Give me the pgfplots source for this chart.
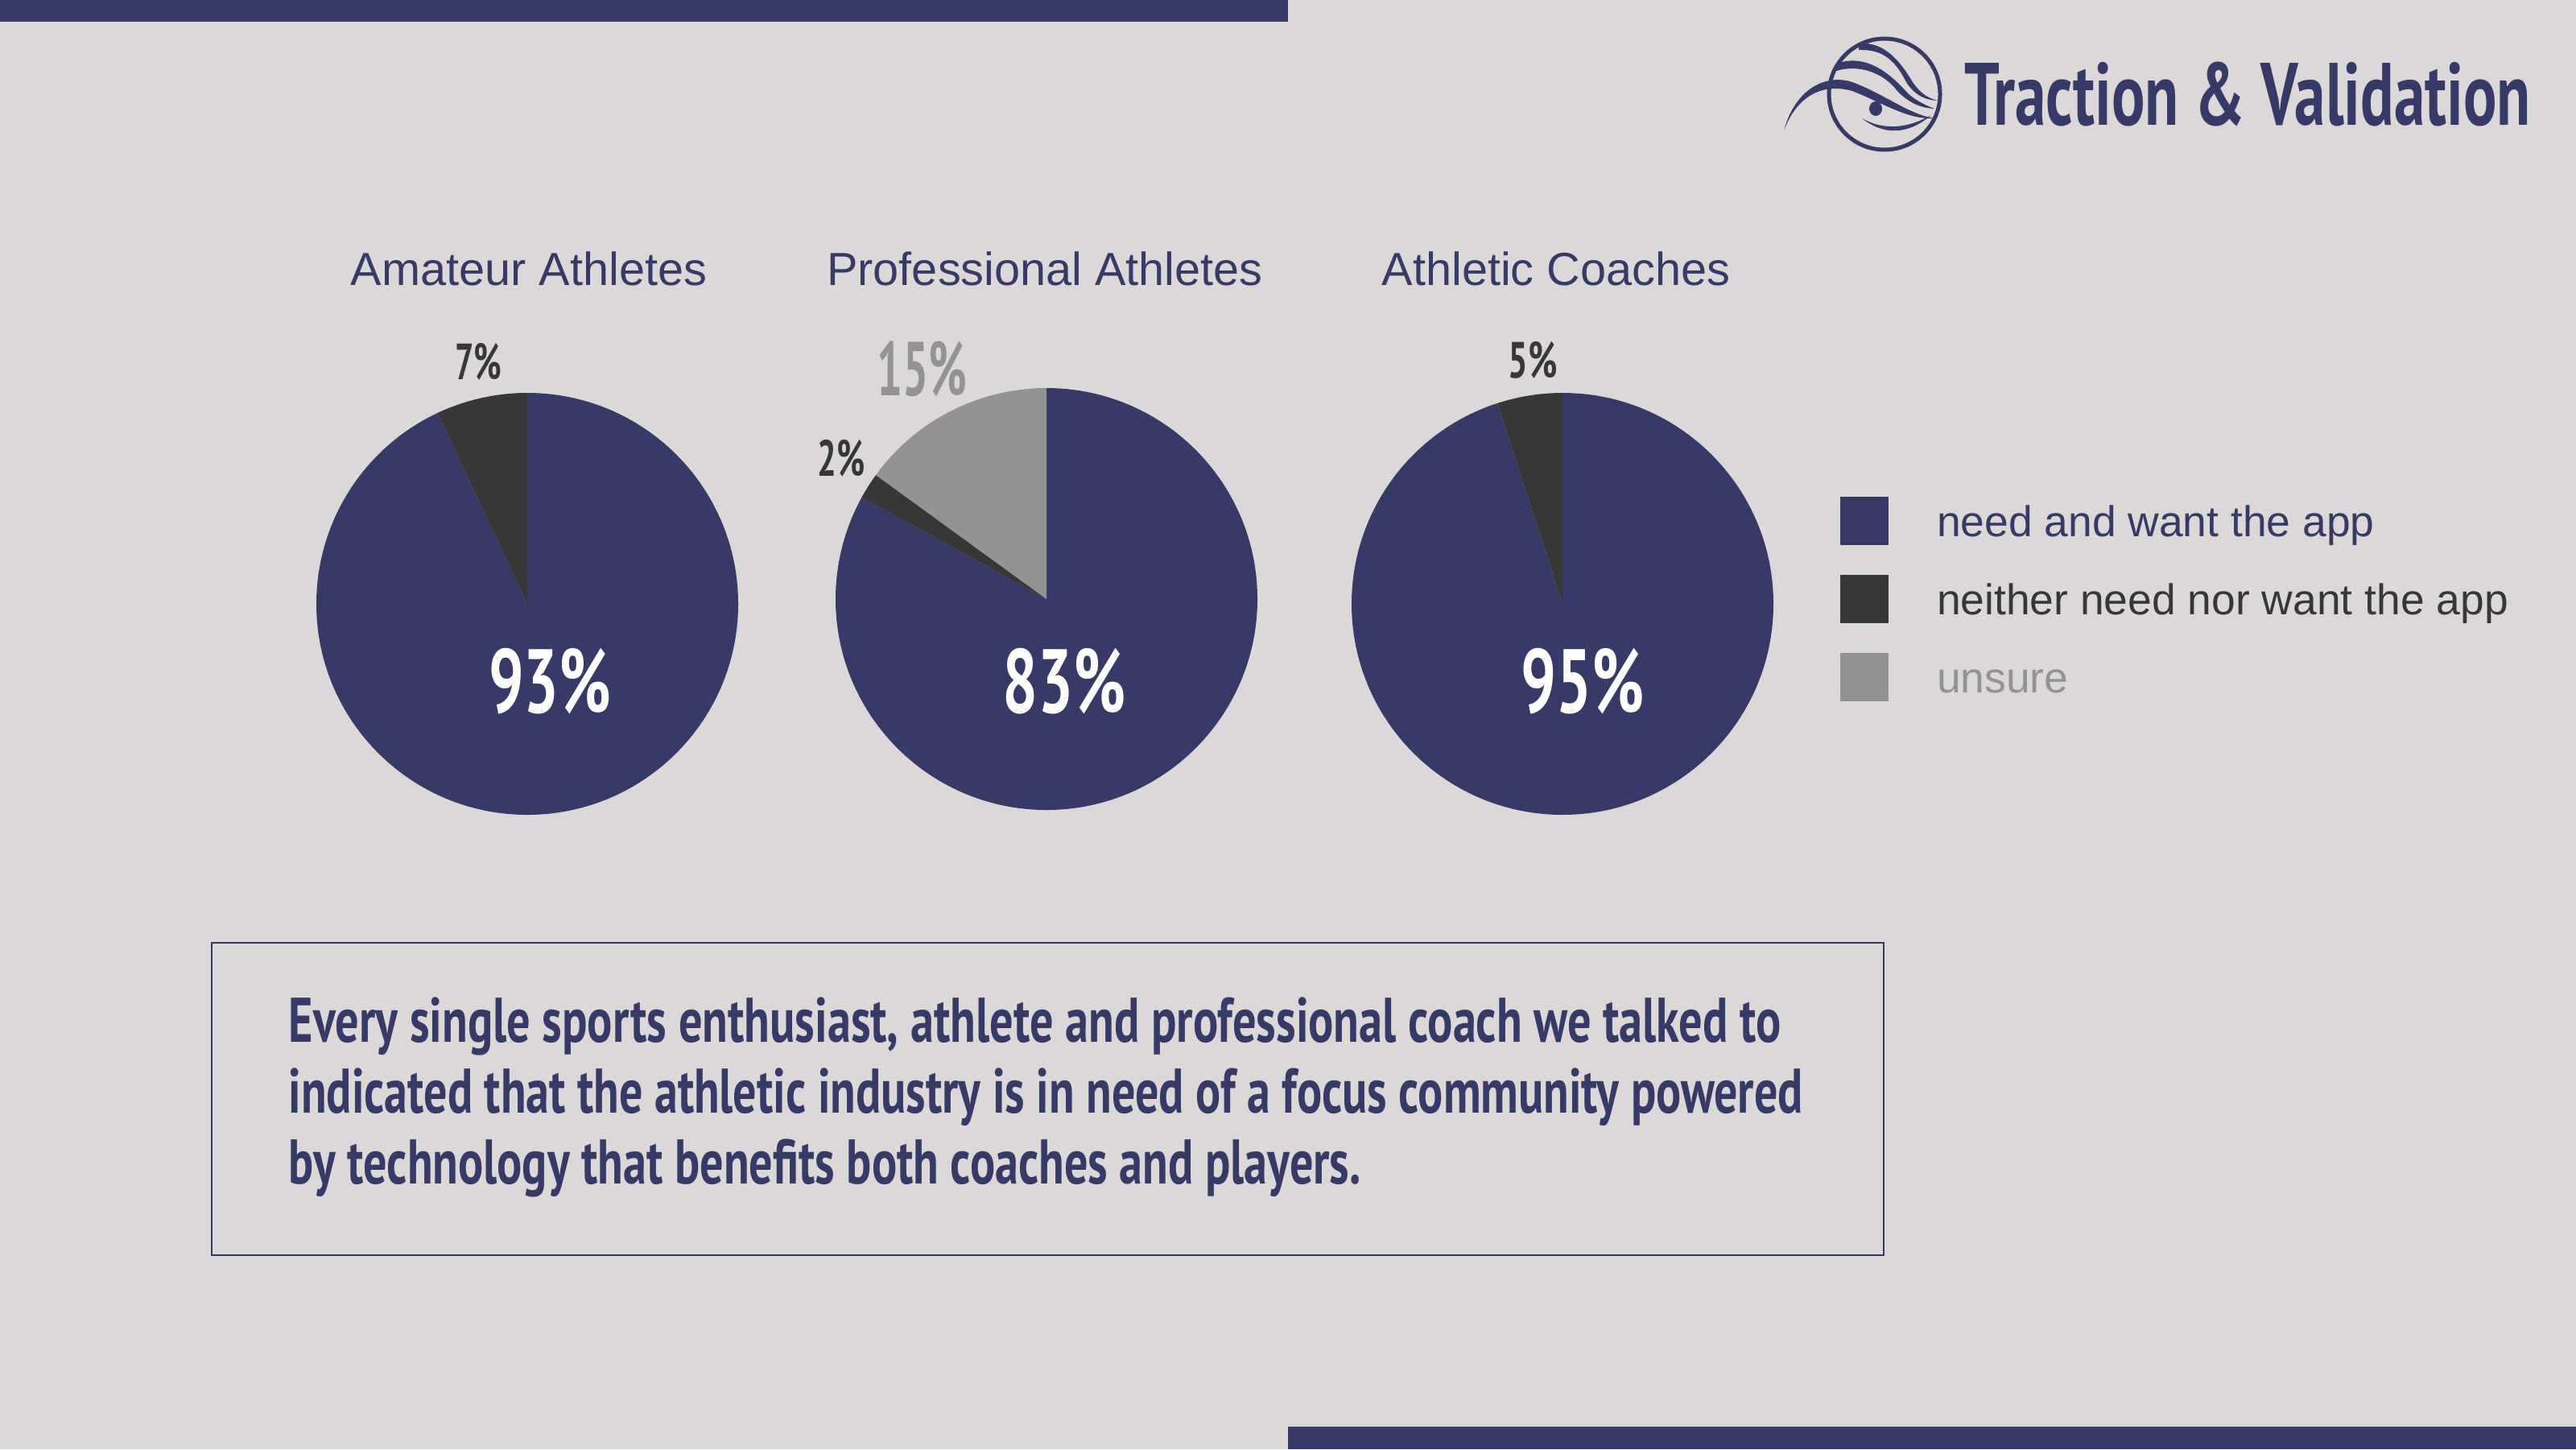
\documentclass[border=0pt]{standalone}
\usepackage{fontspec}
\setmainfont{Liberation Sans}
\newfontfamily\agency{PT Sans}
\usepackage{graphicx}
\usepackage{pgfplots}
\usepackage{pgfplotstable}
\pgfplotsset{compat=1.18}

\definecolor{navy}{RGB}{55,58,102}
\definecolor{bgc}{RGB}{221,216,216}
\definecolor{darkc}{RGB}{55,55,55}
\definecolor{grayc}{RGB}{147,147,147}

% shares of each answer, in percent, clockwise from 12 o'clock
\pgfplotstableread{
share color
93 navy
7 darkc
}\amateur
\pgfplotstableread{
share color
83 navy
2 darkc
15 grayc
}\professional
\pgfplotstableread{
share color
95 navy
5 darkc
}\coaches

\newsavebox\fitbox
\newlength\fitw
\newcommand\fitto[2]{\sbox\fitbox{#2}\setlength\fitw{\wd\fitbox}\pgfmathsetmacro\sx{(#1)/\fitw}\scalebox{\sx}[1]{\usebox\fitbox}}

\newcommand\drawpie[4]{%
  \pgfplotstablegetrowsof{#1}%
  \pgfmathtruncatemacro\lastrow{\pgfplotsretval-1}%
  \def\curang{90}%
  \pgfplotsforeachungrouped \k in {0,...,\lastrow}{%
    \pgfplotstablegetelem{\k}{share}\of{#1}\let\val\pgfplotsretval
    \pgfplotstablegetelem{\k}{color}\of{#1}\let\col\pgfplotsretval
    \pgfmathsetmacro\endang{\curang-3.6*\val}%
    \edef\doit{\noexpand\fill[\col] (axis cs:#2,#3) -- ([shift={(\curang:#4)}]axis cs:#2,#3) arc[start angle=\curang, end angle=\endang, radius=#4] -- cycle;}%
    \doit
    \let\curang\endang
  }%
}

\begin{document}
\begin{tikzpicture}
\begin{axis}[width=32cm,height=18cm,scale only axis,
  xmin=0,xmax=3200,ymin=0,ymax=1800,y dir=reverse,hide axis,clip=false,
  legend style={at={(0.714375,0.657222)},anchor=north west,draw=none,fill=none,
    inner sep=0pt,outer sep=0pt,row sep=0pt,
    font=\fontsize{15.2}{18}\selectfont,
    nodes={inner sep=0pt,text height=0.48cm,text depth=0.48cm,anchor=base west},
    /tikz/every odd column/.append style={column sep=0.6cm}},
  legend cell align=left,
  legend image code/.code={\fill[#1] (0cm,-0.11cm) rectangle (0.6cm,0.49cm);}]

\fill[bgc] (axis cs:0,0) rectangle (axis cs:3200,1800);
\fill[navy] (axis cs:0,0) rectangle (axis cs:1600,27);
\fill[navy] (axis cs:1600,1772) rectangle (axis cs:3200,1800);

% pie titles
\node[anchor=base,text=navy,inner sep=0pt,font=\fontsize{16.4}{20}\selectfont] at (axis cs:657,354) {Amateur Athletes};
\node[anchor=base,text=navy,inner sep=0pt,font=\fontsize{16.4}{20}\selectfont] at (axis cs:1298,354) {Professional Athletes};
\node[anchor=base,text=navy,inner sep=0pt,font=\fontsize{16.4}{20}\selectfont] at (axis cs:1933,354) {Athletic Coaches};

% pies
\drawpie{\amateur}{655}{750}{2.62cm}
\drawpie{\professional}{1300}{744}{2.62cm}
\drawpie{\coaches}{1941}{750}{2.62cm}

% percentage labels
\node[anchor=base,inner sep=0pt,text=darkc] at (axis cs:594,471) {\fitto{0.58cm}{\agency\bfseries\fontsize{18}{20}\selectfont 7\%}};
\node[anchor=base,inner sep=0pt,text=white] at (axis cs:683,885) {\fitto{1.52cm}{\agency\bfseries\fontsize{32}{36}\selectfont 93\%}};
\node[anchor=base,inner sep=0pt,text=grayc] at (axis cs:1145,491) {\fitto{1.12cm}{\agency\bfseries\fontsize{27}{30}\selectfont 15\%}};
\node[anchor=base,inner sep=0pt,text=darkc] at (axis cs:1045,591) {\fitto{0.59cm}{\agency\bfseries\fontsize{18}{20}\selectfont 2\%}};
\node[anchor=base,inner sep=0pt,text=white] at (axis cs:1322,885) {\fitto{1.53cm}{\agency\bfseries\fontsize{32}{36}\selectfont 83\%}};
\node[anchor=base,inner sep=0pt,text=darkc] at (axis cs:1904,469) {\fitto{0.61cm}{\agency\bfseries\fontsize{18}{20}\selectfont 5\%}};
\node[anchor=base,inner sep=0pt,text=white] at (axis cs:1966,885) {\fitto{1.53cm}{\agency\bfseries\fontsize{32}{36}\selectfont 95\%}};

% title
\node[anchor=base west,inner sep=0pt,text=navy] at (axis cs:2440,155) {\fitto{7.03cm}{\agency\bfseries\fontsize{31.3}{36}\selectfont Traction \& Validation}};

% text box
\draw[navy,line width=0.025cm] (axis cs:263,1171) rectangle (axis cs:2340,1559);
\node[anchor=base west,inner sep=0pt,text=navy] at (axis cs:358,1294) {\fitto{18.54cm}{\agency\bfseries\fontsize{22.3}{26}\selectfont Every single sports enthusiast, athlete and professional coach we talked to}};
\node[anchor=base west,inner sep=0pt,text=navy] at (axis cs:358,1382) {\fitto{18.81cm}{\agency\bfseries\fontsize{22.3}{26}\selectfont indicated that the athletic industry is in need of a focus community powered}};
\node[anchor=base west,inner sep=0pt,text=navy] at (axis cs:358,1470) {\fitto{13.32cm}{\agency\bfseries\fontsize{22.3}{26}\selectfont by technology that benefits both coaches and players.}};

\addlegendimage{fill=navy,draw=none}
\addlegendentry{\textcolor{navy}{need and want the app}}
\addlegendimage{fill=darkc,draw=none}
\addlegendentry{\textcolor{darkc}{neither need nor want the app}}
\addlegendimage{fill=grayc,draw=none}
\addlegendentry{\textcolor{grayc}{unsure}}
\end{axis}

% logo
\begin{scope}[shift={(23.41cm,16.83cm)},x=0.01cm,y=-0.01cm]
  \draw[navy,line width=0.05cm] (0,0) circle[radius=0.69cm];
  \fill[navy] (-125,45) .. controls (-110,-10) and (-70,-25) .. (-40,-15)
     .. controls (0,0) and (30,25) .. (62,30)
     .. controls (30,32) and (0,12) .. (-40,-4)
     .. controls (-80,-15) and (-110,5) .. (-125,45) -- cycle;
  \fill[navy] (-11,18) ellipse[x radius=0.08cm,y radius=0.09cm];
  \fill[navy] (-28,30) .. controls (0,46) and (30,42) .. (58,26)
     .. controls (30,50) and (0,52) .. (-28,30) -- cycle;
  \fill[navy] (-60,-38) .. controls (-20,-52) and (10,-22) .. (30,0)
     .. controls (45,12) and (55,15) .. (62,18)
     .. controls (40,17) and (25,6) .. (15,-5)
     .. controls (0,-25) and (-30,-38) .. (-60,-29) -- cycle;
  \fill[navy] (-32,-63) .. controls (0,-66) and (20,-40) .. (35,-15)
     .. controls (45,0) and (55,5) .. (66,8)
     .. controls (45,7) and (34,-4) .. (27,-15)
     .. controls (14,-40) and (0,-56) .. (-32,-55) -- cycle;
\end{scope}
\end{tikzpicture}
\end{document}
